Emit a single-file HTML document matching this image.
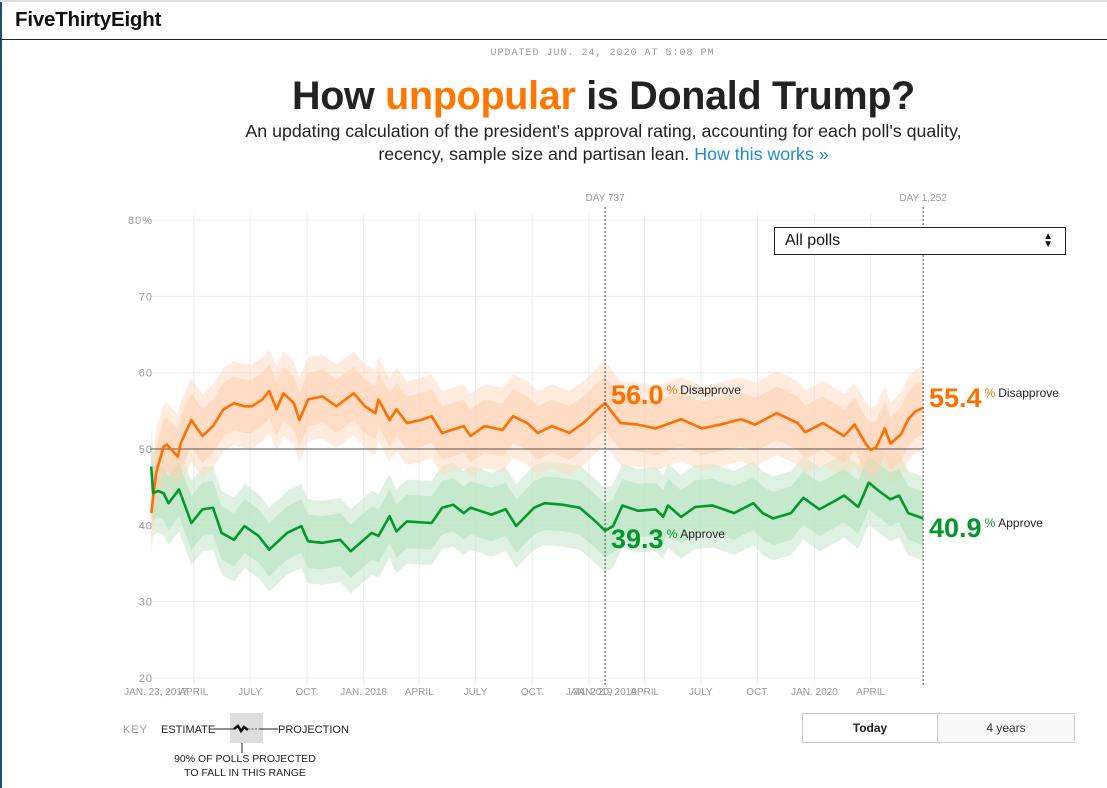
<!DOCTYPE html>
<html><head><meta charset="utf-8">
<style>
body{margin:0;width:1107px;height:788px;overflow:hidden;background:#fff;font-family:"Liberation Sans",sans-serif;position:relative}
.abs{position:absolute}
</style></head>
<body>
<div class="abs" style="left:0;top:0;width:2px;height:788px;background:#1d4f73"></div>
<div class="abs" style="left:0;top:0;width:1107px;height:2px;background:#ddd"></div>
<div class="abs" style="left:15px;top:8px;font-size:20.5px;font-weight:bold;color:#111;letter-spacing:-0.2px">FiveThirtyEight</div>
<div class="abs" style="left:0;top:39px;width:1107px;height:1px;background:#222"></div>
<div class="abs" style="left:0;width:1205px;top:48px;text-align:center;font-family:'Liberation Mono',monospace;font-size:10px;letter-spacing:1px;color:#999">UPDATED JUN. 24, 2020 AT 5:08 PM</div>
<div class="abs" style="left:0;width:1207px;top:74px;text-align:center;font-size:39.5px;font-weight:bold;color:#222;letter-spacing:-0.3px">How <span style="color:#ff7700">unpopular</span> is Donald Trump?</div>
<div class="abs" style="left:0;width:1207px;top:120px;text-align:center;font-size:17.8px;line-height:23px;color:#222">An updating calculation of the president's approval rating, accounting for each poll's quality,<br>recency, sample size and partisan lean. <span style="color:#1e88d0">How this works »</span></div>

<svg class="abs" style="left:0;top:0" width="1107" height="788" id="chart"></svg>

<div class="abs" style="left:774px;top:227px;width:292px;height:28px;border:1px solid #222;box-sizing:border-box;font-size:16px;line-height:26px;padding-left:10px;color:#111;background:#fff">All polls<span style="position:absolute;right:12px;top:0;font-size:10px;line-height:8px;padding-top:5px">▲<br>▼</span></div>

<div class="abs" style="left:802px;top:713px;width:136px;height:30px;border:1px solid #ccc;box-sizing:border-box;text-align:center;line-height:28px;font-size:12px;font-weight:bold;color:#222">Today</div>
<div class="abs" style="left:937px;top:713px;width:138px;height:30px;border:1px solid #ccc;box-sizing:border-box;text-align:center;line-height:28px;font-size:12px;color:#333;background:#f8f8f8">4 years</div>

<div class="abs" style="left:123px;top:724px;font-size:11px;color:#999;letter-spacing:1px">KEY</div>
<div class="abs" style="left:161px;top:724px;font-size:11px;color:#222">ESTIMATE</div>
<div class="abs" style="left:278px;top:724px;font-size:11px;color:#222">PROJECTION</div>
<div class="abs" style="left:160px;top:752px;width:170px;text-align:center;font-size:10.5px;line-height:14px;color:#222">90% OF POLLS PROJECTED<br>TO FALL IN THIS RANGE</div>
<svg class="abs" style="left:210px;top:710px" width="70" height="44">
<rect x="20" y="3" width="33" height="30" fill="#ddd"/>
<line x1="4" y1="19" x2="24" y2="19" stroke="#222"/>
<polyline points="24,19 28,16 31,21 34,17 38,20" fill="none" stroke="#111" stroke-width="2.5"/>
<line x1="38" y1="19" x2="50" y2="19" stroke="#555" stroke-dasharray="2,1.5"/>
<line x1="50" y1="19" x2="68" y2="19" stroke="#222"/>
<line x1="32" y1="33" x2="32" y2="43" stroke="#222"/>
</svg>

<script>
const yTicks=[20,30,40,50,60,70,80];
const xTickDays=[3,71,162,254,346,436,527,619,711,801,892,984,1076,1167];
const xTickLabels=["JAN. 23, 2017","APRIL","JULY","OCT.","JAN. 2018","APRIL","JULY","OCT.","JAN. 2019","APRIL","JULY","OCT.","JAN. 2020","APRIL"];
const markerDays=[737,1252];
const markerLabels=["DAY 737","DAY 1,252"];
const disDays=[2,10,22,27,45,50,67,85,102,119,136,153,165,182,193,205,216,233,242,256,279,302,330,348,365,370,388,399,416,439,456,473,508,519,542,571,588,611,628,651,679,702,725,737,762,790,819,860,894,923,957,980,1015,1049,1061,1090,1124,1141,1159,1167,1176,1190,1199,1216,1228,1239,1252];
const disVals=[41.6,46.9,50.3,50.6,49.0,50.8,53.8,51.7,53.0,55.2,56.0,55.6,55.6,56.5,57.6,55.2,57.3,56.0,53.8,56.5,56.9,55.6,57.3,55.6,54.7,56.5,53.8,55.2,53.4,53.8,54.3,52.1,53.0,51.7,53.0,52.5,54.3,53.4,52.1,53.0,52.1,53.4,55.2,56.0,53.4,53.2,52.7,53.9,52.7,53.2,53.9,53.2,54.7,53.4,52.2,53.4,51.7,53.2,50.7,49.9,50.2,52.7,50.7,51.9,53.9,54.9,55.4];
const appDays=[2,5,13,22,30,47,67,85,102,116,136,153,176,193,222,245,256,279,308,325,359,370,388,399,416,456,473,491,508,519,553,576,593,622,639,668,696,719,737,750,765,790,819,831,839,860,883,911,946,977,992,1009,1038,1058,1084,1107,1124,1147,1164,1182,1199,1213,1228,1245,1252];
const appVals=[47.7,44.2,44.5,44.2,42.9,44.7,40.3,42.1,42.3,39.0,38.1,39.9,38.6,36.8,39.0,39.9,37.9,37.7,38.1,36.6,39.0,38.6,41.2,39.2,40.5,40.3,42.3,42.7,41.6,42.3,41.4,42.1,39.9,42.3,42.9,42.7,42.3,40.7,39.3,39.9,42.6,41.9,42.1,41.1,42.6,41.1,42.4,42.6,41.6,42.9,41.6,40.9,41.6,43.6,42.1,43.1,43.9,42.4,45.6,44.4,43.4,43.9,41.6,41.1,40.9];

const svg=document.getElementById('chart');
const NS='http://www.w3.org/2000/svg';
const X=d=>150+d*0.6175;
const Y=v=>449-(v-50)*7.63;
function mk(tag,attrs,parent){const e=document.createElementNS(NS,tag);for(const k in attrs)e.setAttribute(k,attrs[k]);(parent||svg).appendChild(e);return e;}

yTicks.forEach(t=>{
  const g=mk('line',{x1:150,x2:923,y1:Y(t),y2:Y(t),stroke:'#ececec','stroke-width':1});
  
  
  const l=mk('text',{x:153,y:Y(t)+4,'text-anchor':'end','font-size':11,fill:'#999','font-family':'Liberation Sans, sans-serif','letter-spacing':'1'});
  l.textContent=t===80?'80%':String(t);
  
  
});
xTickDays.forEach((d,i)=>{
  if(i>0){const g=mk('line',{x1:X(d),x2:X(d),y1:213,y2:685,stroke:'#ececec'});
  
  }
  const l=mk('text',{x:i===0?X(d)+4:X(d),y:695,'text-anchor':'middle','font-size':10,fill:'#999','font-family':'Liberation Sans, sans-serif'});
  l.textContent=xTickLabels[i];
  
  
});
const d737=mk('text',{x:X(737),y:695,'text-anchor':'middle','font-size':10,fill:'#999','font-family':'Liberation Sans, sans-serif'});
d737.textContent='JAN. 20, 2019';



function band(days,vals,w,color,op,name){
  let pts=days.map((d,i)=>X(d)+','+Y(vals[i]+w));
  for(let i=days.length-1;i>=0;i--)pts.push(X(days[i])+','+Y(vals[i]-w));
  const p=mk('polygon',{points:pts.join(' '),fill:color,opacity:op});
  
  
}
band(appDays,appVals,5.5,'#bfe6c6',0.5,'approve-outer-band');
band(disDays,disVals,5.5,'#ffd9bd',0.5,'disapprove-outer-band');
band(appDays,appVals,3.5,'#b6e2bf',0.6,'approve-inner-band');
band(disDays,disVals,3.5,'#ffd2b0',0.6,'disapprove-inner-band');

const z=mk('line',{x1:150,x2:923,y1:Y(50),y2:Y(50),stroke:'#555'});



function line(days,vals,color,name){
  const p=mk('polyline',{points:days.map((d,i)=>X(d)+','+Y(vals[i])).join(' '),fill:'none',stroke:color,'stroke-width':2.6,'stroke-linejoin':'round'});
  
  
}
line(disDays,disVals,'#ff7000','disapprove-line');
line(appDays,appVals,'#009a2a','approve-line');

markerDays.forEach((d,i)=>{
  const m=mk('line',{x1:X(d),x2:X(d),y1:207,y2:686,stroke:'#444','stroke-dasharray':'2,2'});
  
  
  const t=mk('text',{x:X(d),y:201,'text-anchor':'middle','font-size':10,fill:'#999','font-family':'Liberation Sans, sans-serif'});
  t.textContent=markerLabels[i];
  
  
});

function valLabel(x,y,num,color,word,name){
  const t=mk('text',{x:x,y:y,'font-family':'Liberation Sans, sans-serif'});
  
  
  const a=mk('tspan',{'font-size':27,'font-weight':'bold',fill:color},t);a.textContent=num;
  const b=mk('tspan',{'font-size':12,fill:color,dx:3,dy:-10},t);b.textContent='%';
  const c=mk('tspan',{'font-size':12,fill:'#222',dx:3},t);c.textContent=word;
}
const di737=disDays.indexOf(737), ai737=appDays.indexOf(737);
valLabel(611,404,disVals[di737].toFixed(1),'#ff7000','Disapprove','disapprove-day737-label');
valLabel(611,548,appVals[ai737].toFixed(1),'#009a2a','Approve','approve-day737-label');
valLabel(929,407,disVals[disVals.length-1].toFixed(1),'#ff7000','Disapprove','disapprove-current-label');
valLabel(929,537,appVals[appVals.length-1].toFixed(1),'#009a2a','Approve','approve-current-label');
</script>
</body></html>
